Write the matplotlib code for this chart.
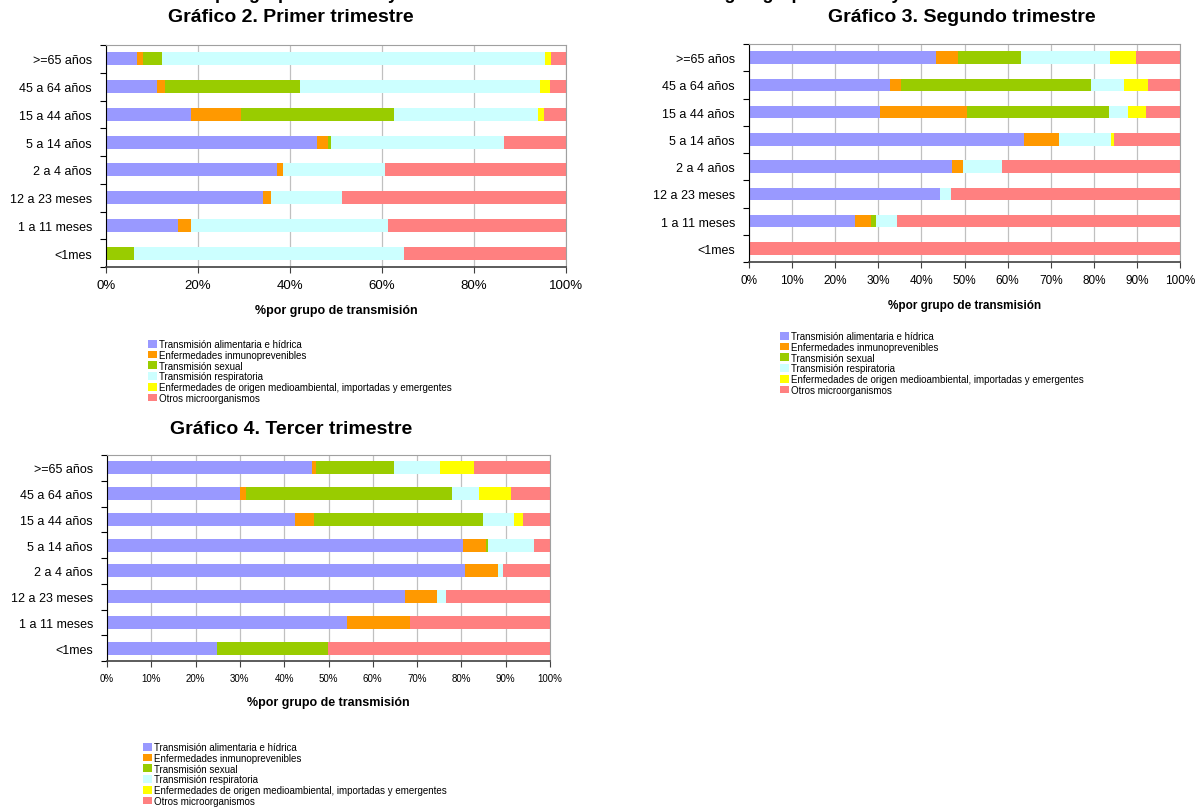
import matplotlib.pyplot as plt
from matplotlib.patches import Patch
from matplotlib.ticker import MultipleLocator, FuncFormatter

plt.rcParams['font.family'] = ['Liberation Sans', 'DejaVu Sans']

# age groups, top to bottom as in the chart
grupos = ['>=65 años', '45 a 64 años', '15 a 44 años', '5 a 14 años',
          '2 a 4 años', '12 a 23 meses', '1 a 11 meses', '<1mes']

series = ['Transmisión alimentaria e hídrica',
          'Enfermedades inmunoprevenibles',
          'Transmisión sexual',
          'Transmisión respiratoria',
          'Enfermedades de origen medioambiental, importadas y emergentes',
          'Otros microorganismos']
colores = ['#9999FF', '#FF9900', '#99CC00', '#CCFFFF', '#FFFF00', '#FF8080']

# % per group, one list per series, same order as grupos
# Gráfico 2 - primer trimestre
t1_alim = [6.8, 11.0, 18.5, 45.9, 37.1, 34.1, 15.6, 0.0]
t1_inmu = [1.3, 1.8, 10.8, 2.3, 1.3, 1.7, 2.9, 0.0]
t1_sexu = [4.0, 29.3, 33.2, 0.8, 0.0, 0.0, 0.0, 6.1]
t1_resp = [83.3, 52.3, 31.4, 37.6, 22.2, 15.4, 42.7, 58.6]
t1_medi = [1.4, 2.2, 1.4, 0.0, 0.0, 0.0, 0.0, 0.0]
t1_otro = [3.2, 3.4, 4.7, 13.4, 39.4, 48.8, 38.8, 35.3]

# Gráfico 3 - segundo trimestre
t2_alim = [43.3, 32.7, 30.4, 63.8, 47.0, 44.2, 24.6, 0.0]
t2_inmu = [5.1, 2.5, 20.1, 8.2, 2.7, 0.0, 3.8, 0.0]
t2_sexu = [14.8, 44.2, 33.1, 0.0, 0.0, 0.0, 1.0, 0.0]
t2_resp = [20.5, 7.7, 4.4, 12.0, 9.0, 2.6, 4.9, 0.0]
t2_medi = [6.1, 5.5, 4.0, 0.7, 0.0, 0.0, 0.0, 0.0]
t2_otro = [10.2, 7.4, 8.0, 15.3, 41.3, 53.2, 65.7, 100.0]

# Gráfico 4 - tercer trimestre
t3_alim = [46.3, 30.1, 42.5, 80.3, 80.9, 67.2, 54.2, 24.9]
t3_inmu = [0.9, 1.2, 4.3, 5.2, 7.4, 7.3, 14.1, 0.0]
t3_sexu = [17.6, 46.6, 38.1, 0.4, 0.0, 0.0, 0.0, 25.0]
t3_resp = [10.4, 6.1, 7.0, 10.6, 1.0, 2.1, 0.0, 0.0]
t3_medi = [7.7, 7.1, 1.9, 0.0, 0.0, 0.0, 0.0, 0.0]
t3_otro = [17.1, 8.9, 6.2, 3.5, 10.7, 23.4, 31.7, 50.1]

W, H = 1196, 812
fig = plt.figure(figsize=(W / 100, H / 100), dpi=100)


def px_axes(x0, y0, x1, y1):
    # pixel box (top-left origin) -> figure fraction
    return fig.add_axes([x0 / W, 1 - y1 / H, (x1 - x0) / W, (y1 - y0) / H])


def stacked(ax, datos, paso, xfs, lfs, alto):
    left = [0.0] * len(grupos)
    for vals, c in zip(datos, colores):
        ax.barh(range(len(grupos)), vals, left=left, height=alto,
                color=c, edgecolor='none', zorder=2)
        left = [a + b for a, b in zip(left, vals)]
    ax.set_xlim(0, 100)
    ax.set_ylim(len(grupos) - 0.5, -0.5)
    ax.set_yticks(range(len(grupos)))
    ax.set_yticklabels(grupos, fontsize=9)
    ax.yaxis.set_minor_locator(MultipleLocator(1, offset=0.5))
    ax.tick_params(axis='y', which='major', length=0, pad=10)
    ax.tick_params(axis='y', which='minor', length=4, width=0.8, direction='out')
    ax.xaxis.set_major_locator(MultipleLocator(paso))
    ax.xaxis.set_major_formatter(FuncFormatter(lambda v, p: '%d%%' % round(v)))
    ax.tick_params(axis='x', length=4, width=0.8, labelsize=xfs, pad=5,
                   color='#404040')
    ax.grid(axis='x', color='#C0C0C0', lw=0.9, zorder=0)
    ax.set_axisbelow(True)
    ax.set_xlabel('%por grupo de transmisión', fontsize=lfs,
                  fontweight='bold', labelpad=9)
    ax.spines['left'].set_color('black')
    ax.spines['bottom'].set_color('#404040')
    ax.spines['bottom'].set_linewidth(1.2)
    for s in ('top', 'right'):
        ax.spines[s].set_color('#A0A0A0')
        ax.spines[s].set_linewidth(0.8)


def leyenda(x, y):
    handles = [Patch(facecolor=c, edgecolor='none') for c in colores]
    fig.legend(handles, series, loc='upper left',
               bbox_to_anchor=(x / W, 1 - y / H), frameon=False,
               fontsize=7, handlelength=0.9, handleheight=0.85,
               handletextpad=0.2, labelspacing=0.08, borderpad=0,
               borderaxespad=0)


# main title, cut off at the top edge like in the source (only descenders show)
fig.text(610 / W, 1 + 1 / H,
         'Distribución por grupos de edad y mecanismo de transmisión. '
         'Casos según grupo de edad y trimestre de declaración',
         ha='center', va='baseline', fontsize=13, fontweight='bold')

ax1 = px_axes(106, 46, 566, 268)
stacked(ax1, [t1_alim, t1_inmu, t1_sexu, t1_resp, t1_medi, t1_otro],
        20, 9.5, 9, 0.47)
fig.text(291 / W, 1 - 18 / H, 'Gráfico 2. Primer trimestre', ha='center',
         va='center', fontsize=14, fontweight='bold')
leyenda(148, 340)

ax2 = px_axes(749, 45, 1180, 263)
stacked(ax2, [t2_alim, t2_inmu, t2_sexu, t2_resp, t2_medi, t2_otro],
        10, 8.5, 8.5, 0.46)
fig.text(962 / W, 1 - 18 / H, 'Gráfico 3. Segundo trimestre', ha='center',
         va='center', fontsize=14, fontweight='bold')
leyenda(780, 332)

ax3 = px_axes(107, 456, 550, 662)
stacked(ax3, [t3_alim, t3_inmu, t3_sexu, t3_resp, t3_medi, t3_otro],
        10, 7, 9, 0.5)
fig.text(291 / W, 1 - 430 / H, 'Gráfico 4. Tercer trimestre', ha='center',
         va='center', fontsize=14, fontweight='bold')
leyenda(143, 743)

fig.savefig('out.png', dpi=100)
